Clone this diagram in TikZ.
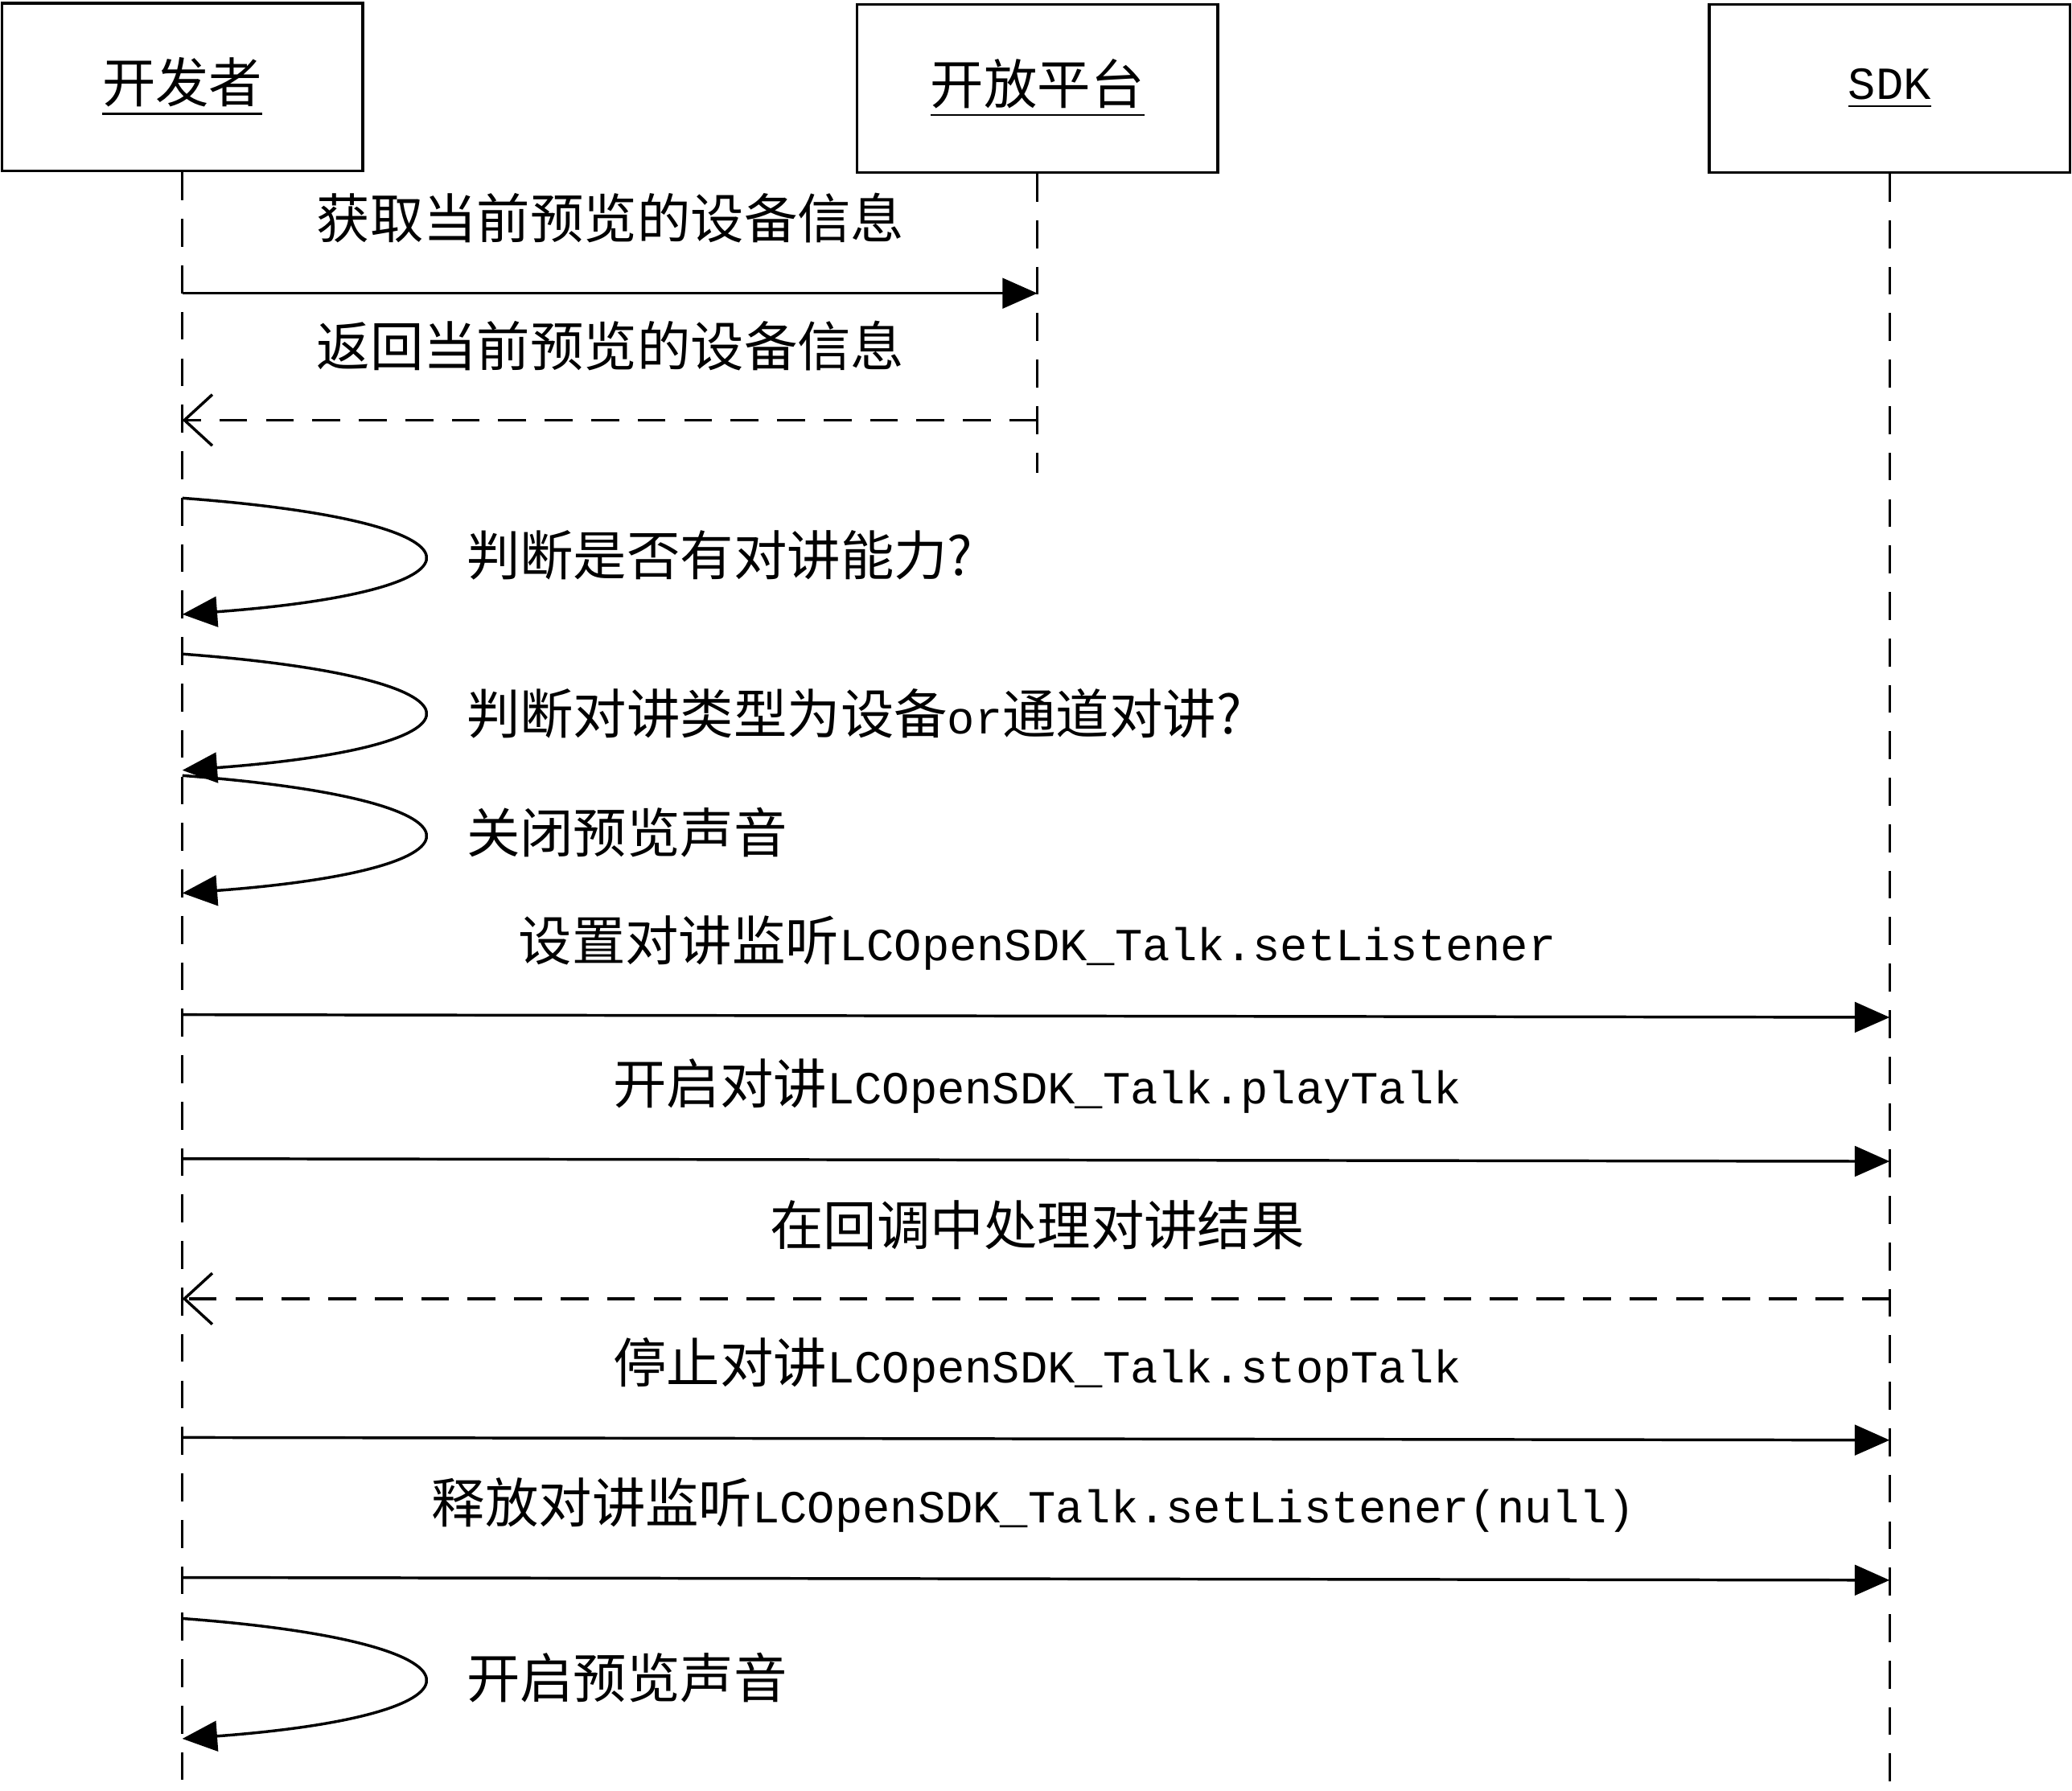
\documentclass[tikz,border=0pt]{standalone}
\usepackage{fontspec}
\usetikzlibrary{arrows.meta}
\setmainfont{Noto Sans CJK SC}
\newfontfamily\latfont{Liberation Mono}[Scale=0.86]
\newcommand{\ltx}[1]{{\latfont #1}}
\begin{document}
\begin{tikzpicture}[x=0.01cm,y=-0.01cm,line width=0.6pt,
  every node/.style={font=\fontsize{11.5}{13}\selectfont},
  actor/.style={draw,minimum width=273*0.01cm,minimum height=127*0.01cm,inner sep=0pt},
  life/.style={dash pattern=on 6pt off 4pt},
  msg/.style={-{Triangle[length=7.5pt,width=6.5pt]}},
  ret/.style={dash pattern=on 6pt off 4pt,-{Straight Barb[length=6pt,width=11pt]}},
  self/.style={-{Triangle[length=7.5pt,width=6.5pt]}},
  lbl/.style={inner sep=0pt},
  slbl/.style={inner sep=0pt,anchor=west}]
\useasboundingbox (0,0) rectangle (1568,1355);
\node[actor] (dev) at (138,66) {\underline{开发者}};
\node[actor] (plat) at (785,67) {\underline{开放平台}};
\node[actor] (sdk) at (1430,67) {\underline{\ltx{SDK}}};
\draw[life] (dev.south) -- (138,1355);
\draw[life] (plat.south) -- (785,358);
\draw[life] (sdk.south) -- (1430,1355);
% developer <-> platform
\node[lbl] (m1) at (462,165) {获取当前预览的设备信息};
\draw[msg] (138,222) -- (785,222);
\node[lbl] (m2) at (462,262) {返回当前预览的设备信息};
\draw[ret] (785,318) -- (138,318);
% self checks
\draw[self] (138,377) .. controls (380,395) and (380,447) .. (138,465);
\node[slbl] (s1) at (352,420) {判断是否有对讲能力?};
\draw[self] (138,495) .. controls (380,513) and (380,565) .. (138,583);
\node[slbl] (s2) at (352,540) {判断对讲类型为设备\ltx{or}通道对讲?};
\draw[self] (138,587) .. controls (380,605) and (380,658) .. (138,676);
\node[slbl] (s3) at (352,630) {关闭预览声音};
% developer <-> sdk
\node[lbl] (m3) at (785,714) {设置对讲监听\ltx{LCOpenSDK\_Talk.setListener}};
\draw[msg] (138,768) -- (1430,770);
\node[lbl] (m4) at (785,822) {开启对讲\ltx{LCOpenSDK\_Talk.playTalk}};
\draw[msg] (138,877) -- (1430,879);
\node[lbl] (m5) at (785,927) {在回调中处理对讲结果};
\draw[ret] (1430,983) -- (138,983);
\node[lbl] (m6) at (785,1033) {停止对讲\ltx{LCOpenSDK\_Talk.stopTalk}};
\draw[msg] (138,1088) -- (1430,1090);
\node[lbl] (m7) at (782,1139) {释放对讲监听\ltx{LCOpenSDK\_Talk.setListener(null)}};
\draw[msg] (138,1194) -- (1430,1196);
\draw[self] (138,1225) .. controls (380,1243) and (380,1298) .. (138,1316);
\node[slbl] (s4) at (352,1270) {开启预览声音};
\end{tikzpicture}
\end{document}
